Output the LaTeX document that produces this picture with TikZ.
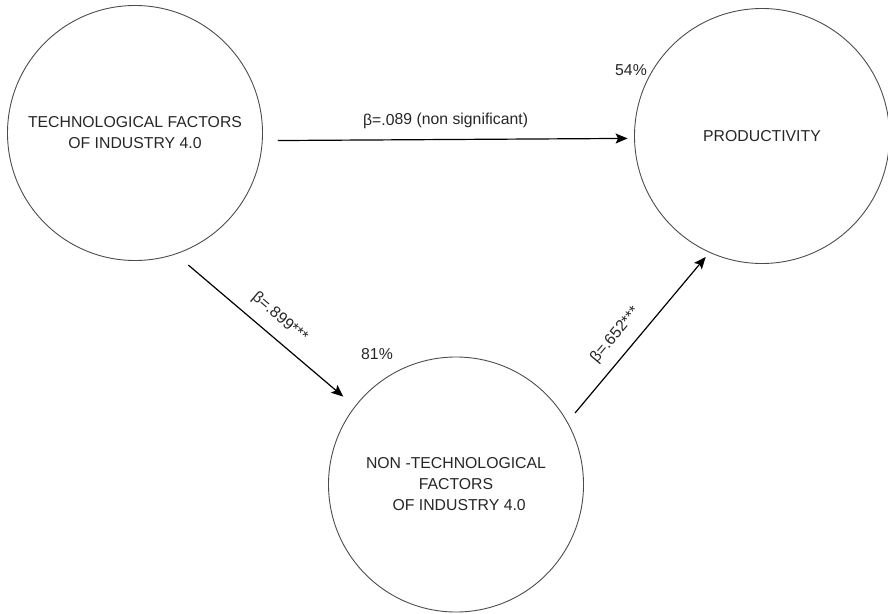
\documentclass[tikz,border=0pt]{standalone}
\usepackage{fontspec}
\setmainfont{Liberation Sans}
\usetikzlibrary{arrows.meta}
\begin{document}
\begin{tikzpicture}[x=1pt,y=-1pt,
  every node/.style={font=\fontsize{15.8}{21}\selectfont, text=black!85},
  factor/.style={circle, draw=black!70, line width=0.9pt, minimum size=255pt, inner sep=0pt, align=center},
  arr/.style={line width=1.2pt, -{Stealth[length=12pt,width=10pt,inset=2.5pt]}},
  coef/.style={sloped, above=11pt, inner sep=0pt},
  pct/.style={inner sep=0pt}]
\useasboundingbox (0,0) rectangle (888,613);
\node[factor] (tech) at (135,133) {TECHNOLOGICAL FACTORS\\OF INDUSTRY 4.0};
\node[factor] (prod) at (762,136) {PRODUCTIVITY};
\node[factor] (non) at (456,484.5) {NON -TECHNOLOGICAL\\FACTORS\\\hspace*{0.4em}OF INDUSTRY 4.0};
\node[pct] (p54) at (631,70) {54\%};
\node[pct] (p81) at (377,354) {81\%};
\draw[arr] ([shift={(-3.2:15pt)}]tech.-3.2) -- node[coef, pos=0.48] {β=.089 (non significant)} ([shift={(181.7:6.5pt)}]prod.181.7);
\draw[arr] ([shift={(-68:14.5pt)}]tech.-68) -- node[coef, pos=0.51] {β=.899***} ([shift={(142.6:15pt)}]non.142.6);
\draw[arr] ([shift={(31:11pt)}]non.31) -- node[coef, pos=0.42] {β=.652***} ([shift={(245.6:5.5pt)}]prod.245.6);
\end{tikzpicture}
\end{document}
